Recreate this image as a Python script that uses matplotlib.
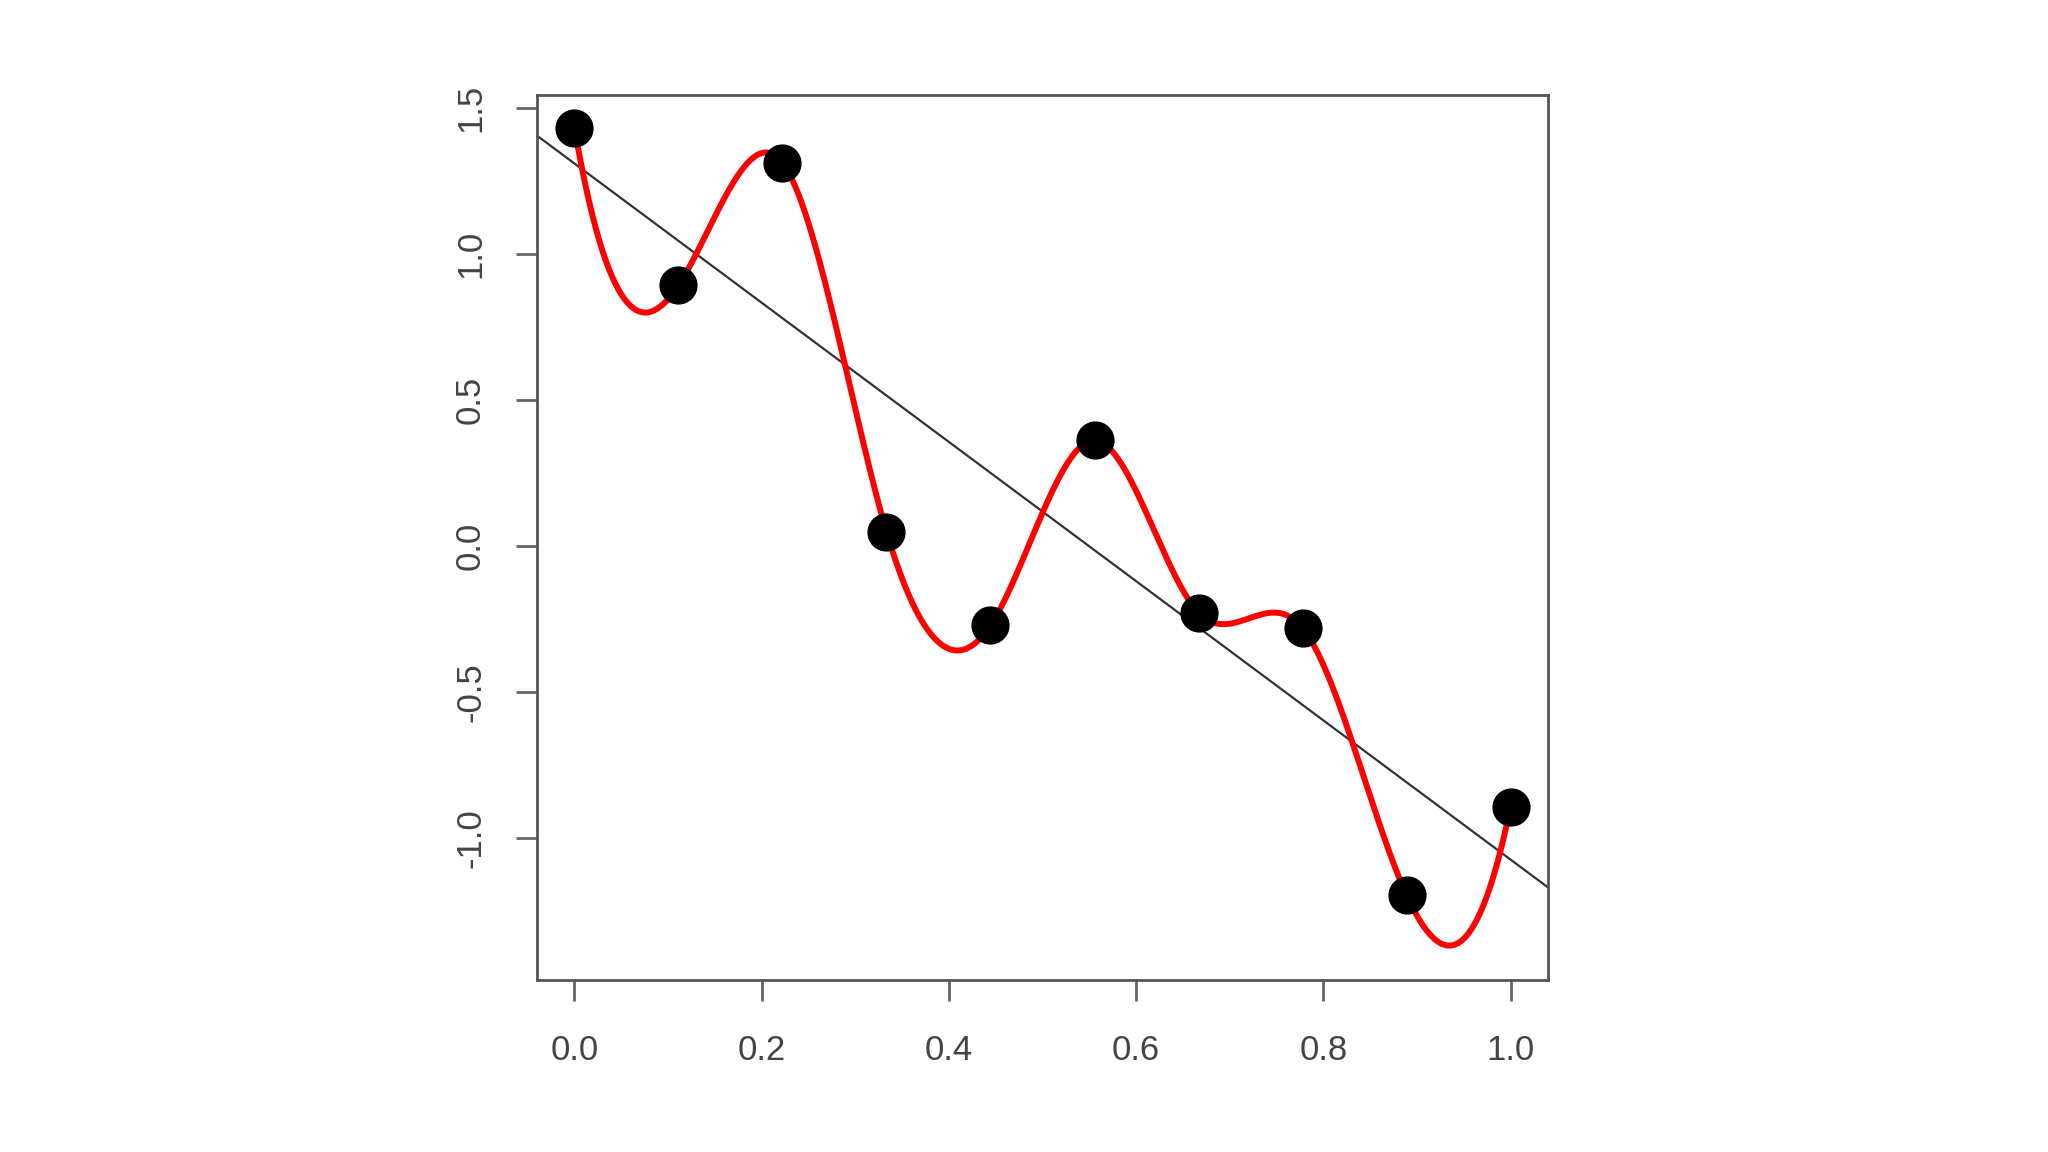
import numpy as np
import matplotlib
matplotlib.use("Agg")
import matplotlib.pyplot as plt

plt.rcParams['font.family'] = ['Liberation Sans', 'DejaVu Sans']

# data points
x_pts = [0.0, 1/9, 2/9, 3/9, 4/9, 5/9, 6/9, 7/9, 8/9, 1.0]
y_pts = [1.433, 0.893, 1.3125, 0.049, -0.272, 0.362, -0.228, -0.281, -1.196, -0.893]
x_ticks = [0.0, 0.2, 0.4, 0.6, 0.8, 1.0]
x_tick_labels = ["0.0", "0.2", "0.4", "0.6", "0.8", "1.0"]
y_ticks = [-1.0, -0.5, 0.0, 0.5, 1.0, 1.5]
y_tick_labels = ["-1.0", "-0.5", "0.0", "0.5", "1.0", "1.5"]

xp = np.array(x_pts)
yp = np.array(y_pts)


def divdiff3(x, y):
    # third divided difference of four points
    d1 = np.diff(y) / np.diff(x)
    d2 = np.diff(d1) / (x[2:] - x[:-2])
    return (d2[1] - d2[0]) / (x[3] - x[0])


def fmm_spline(x, y, xs):
    """Cubic interpolating spline with Forsythe-Malcolm-Moler end conditions
    (the default method of R's spline())."""
    n = len(x)
    h = np.diff(x)
    A = np.zeros((n, n))
    r = np.zeros(n)
    A[0, 0], A[0, 1] = -1, 1
    r[0] = 6 * h[0] * divdiff3(x[:4], y[:4])
    A[-1, -2], A[-1, -1] = -1, 1
    r[-1] = 6 * h[-1] * divdiff3(x[-4:], y[-4:])
    for i in range(1, n - 1):
        A[i, i - 1] = h[i - 1]
        A[i, i] = 2 * (h[i - 1] + h[i])
        A[i, i + 1] = h[i]
        r[i] = 6 * ((y[i + 1] - y[i]) / h[i] - (y[i] - y[i - 1]) / h[i - 1])
    M = np.linalg.solve(A, r)
    idx = np.clip(np.searchsorted(x, xs) - 1, 0, n - 2)
    x0, x1 = x[idx], x[idx + 1]
    hh = x1 - x0
    a = (x1 - xs) / hh
    b = (xs - x0) / hh
    return (a * y[idx] + b * y[idx + 1]
            + ((a ** 3 - a) * M[idx] + (b ** 3 - b) * M[idx + 1]) * hh ** 2 / 6)


fig = plt.figure(figsize=(20.48, 11.52), dpi=100)
ax = fig.add_axes([537/2048, 1 - 980/1152, (1548-537)/2048, (980-95)/1152])

xs = np.linspace(0, 1, 600)
poly1 = np.polyfit(xp, yp, 1)

ax.set_xlim(-0.04, 1.04)
ax.set_ylim(-1.487, 1.545)

xl = np.array([-0.04, 1.04])
ax.plot(xl, np.polyval(poly1, xl), color='#333333', lw=1.6, zorder=2)
ax.plot(xs, fmm_spline(xp, yp, xs), color='#ff0000', lw=4.3, zorder=3, solid_capstyle='round')
ax.plot(xp, yp, 'o', color='black', markersize=26.5, zorder=4)

ax.set_xticks(x_ticks)
ax.set_xticklabels(x_tick_labels)
ax.set_yticks(y_ticks)
ax.set_yticklabels(y_tick_labels, rotation=90, va='center')

for s in ax.spines.values():
    s.set_color('#555555')
    s.set_linewidth(2)
ax.tick_params(axis='both', direction='out', length=15, width=2, color='#666666',
               labelsize=25, labelcolor='#444444')
ax.tick_params(axis='x', pad=24)
ax.tick_params(axis='y', pad=21)

fig.savefig('out.png', dpi=100, facecolor='white')
